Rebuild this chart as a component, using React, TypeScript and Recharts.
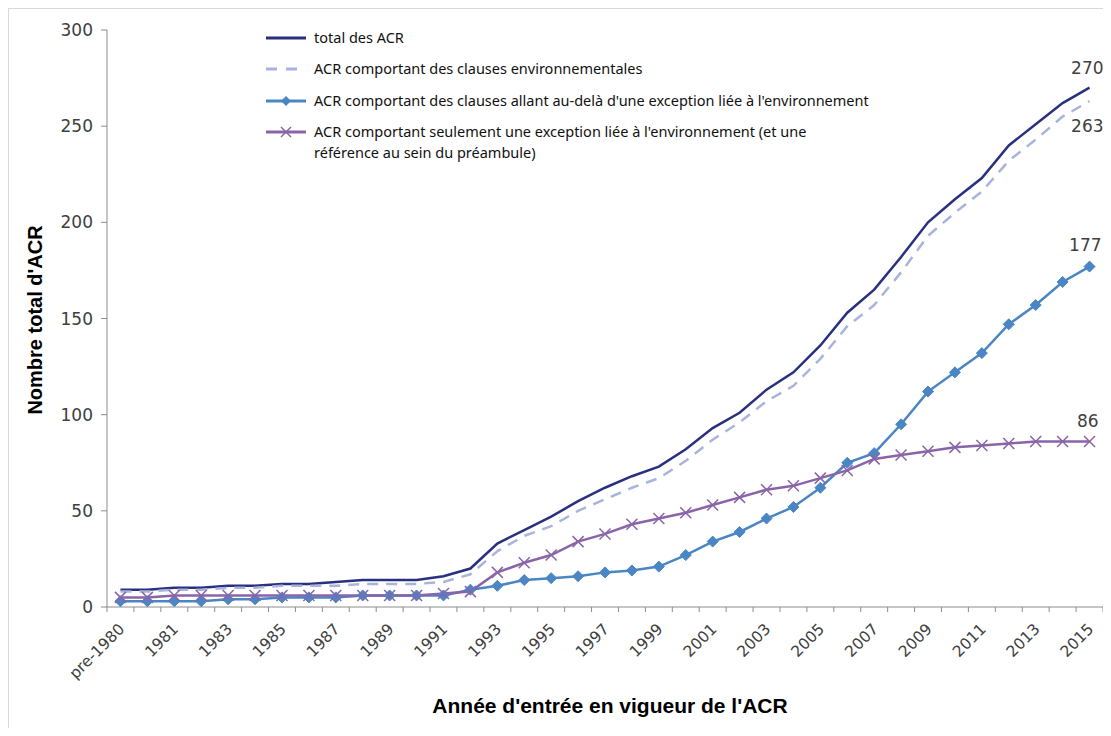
import React from 'react';
import { LineChart, Line, XAxis, YAxis, LabelList } from 'recharts';

// Année d'entrée en vigueur
const years = [
  'pre-1980', '1980', '1981', '1982', '1983', '1984', '1985', '1986', '1987',
  '1988', '1989', '1990', '1991', '1992', '1993', '1994', '1995', '1996',
  '1997', '1998', '1999', '2000', '2001', '2002', '2003', '2004', '2005',
  '2006', '2007', '2008', '2009', '2010', '2011', '2012', '2013', '2014', '2015',
];

const tickLabels = [
  'pre-1980', '1981', '1983', '1985', '1987', '1989', '1991', '1993', '1995',
  '1997', '1999', '2001', '2003', '2005', '2007', '2009', '2011', '2013', '2015',
];

const yTicks = [0, 50, 100, 150, 200, 250, 300];

const totalAcr = [
  9, 9, 10, 10, 11, 11, 12, 12, 13, 14, 14, 14, 16, 20, 33, 40, 47, 55, 62,
  68, 73, 82, 93, 101, 113, 122, 136, 153, 165, 182, 200, 212, 223, 240, 251, 262, 270,
];

const envClauses = [
  8, 8, 9, 9, 10, 10, 11, 11, 11, 12, 12, 12, 13, 17, 29, 37, 42, 50, 56,
  62, 67, 76, 87, 96, 107, 115, 129, 146, 157, 174, 193, 205, 216, 232, 243, 255, 263,
];

const beyondException = [
  3, 3, 3, 3, 4, 4, 5, 5, 5, 6, 6, 6, 6, 9, 11, 14, 15, 16, 18,
  19, 21, 27, 34, 39, 46, 52, 62, 75, 80, 95, 112, 122, 132, 147, 157, 169, 177,
];

const exceptionOnly = [
  5, 5, 6, 6, 6, 6, 6, 6, 6, 6, 6, 6, 7, 8, 18, 23, 27, 34, 38,
  43, 46, 49, 53, 57, 61, 63, 67, 71, 77, 79, 81, 83, 84, 85, 86, 86, 86,
];

const legendLabels = [
  'total des ACR',
  'ACR comportant des clauses environnementales',
  "ACR comportant des clauses allant au-delà d'une exception liée à l'environnement",
  "ACR comportant seulement une exception liée à l'environnement (et une",
  'référence au sein du préambule)',
];

const NAVY = '#28307f';
const LAVENDER = '#a9b4dc';
const BLUE = '#4a86c4';
const PURPLE = '#8a64a8';
const AXIS = '#8c8c8c';
const TEXT = '#404040';

const data = years.map((year, i) => ({
  year,
  total: totalAcr[i],
  env: envClauses[i],
  beyond: beyondException[i],
  only: exceptionOnly[i],
}));

const PLOT_W = 996;
const BAND = PLOT_W / years.length;
const LAST = years.length - 1;

const XTick = (props: any) => {
  const { x, y, payload } = props;
  const idx = payload.index;
  const label = payload.value;
  const tx = x + 5;
  const ty = y + 23;
  return (
    <g>
      <line x1={x - BAND / 2} x2={x - BAND / 2} y1={y} y2={y + 5} stroke={AXIS} />
      {idx === LAST && (
        <line x1={x + BAND / 2} x2={x + BAND / 2} y1={y} y2={y + 5} stroke={AXIS} />
      )}
      {tickLabels.includes(label) && (
        <text
          x={tx}
          y={ty}
          textAnchor="end"
          transform={`rotate(-45 ${tx} ${ty})`}
          fontFamily="DejaVu Sans"
          fontSize={15.5}
          fill={TEXT}
        >
          {label}
        </text>
      )}
    </g>
  );
};

const Diamond = (props: any) => {
  const { cx, cy } = props;
  const r = 5.5;
  return (
    <polygon
      points={`${cx},${cy - r} ${cx + r},${cy} ${cx},${cy + r} ${cx - r},${cy}`}
      fill={BLUE}
      stroke={BLUE}
    />
  );
};

const Cross = (props: any) => {
  const { cx, cy } = props;
  const r = 5.5;
  return (
    <g stroke={PURPLE} strokeWidth={1.5}>
      <line x1={cx - r} y1={cy - r} x2={cx + r} y2={cy + r} />
      <line x1={cx - r} y1={cy + r} x2={cx + r} y2={cy - r} />
    </g>
  );
};

const endLabel = (dx: number, dy: number) => (props: any) => {
  const { x, y, value, index } = props;
  if (index !== LAST) return null;
  return (
    <text x={x + dx} y={y + dy} textAnchor="end" fontFamily="DejaVu Sans" fontSize={17} fill={TEXT}>
      {value}
    </text>
  );
};

const LegendSymbol = ({ kind }: { kind: string }) => (
  <svg width={42} height={14} style={{ display: 'block' }}>
    {kind === 'total' && <line x1={1} x2={41} y1={7} y2={7} stroke={NAVY} strokeWidth={3} />}
    {kind === 'env' && (
      <line x1={1} x2={41} y1={7} y2={7} stroke={LAVENDER} strokeWidth={3} strokeDasharray="11 9" />
    )}
    {kind === 'beyond' && (
      <g>
        <line x1={1} x2={41} y1={7} y2={7} stroke={BLUE} strokeWidth={3} />
        <polygon points="21,2 26,7 21,12 16,7" fill={BLUE} />
      </g>
    )}
    {kind === 'only' && (
      <g>
        <line x1={1} x2={41} y1={7} y2={7} stroke={PURPLE} strokeWidth={3} />
        <g stroke={PURPLE} strokeWidth={1.5}>
          <line x1={16} y1={2} x2={26} y2={12} />
          <line x1={16} y1={12} x2={26} y2={2} />
        </g>
      </g>
    )}
  </svg>
);

const legendRow = (top: number, kind: string, lines: string[]) => (
  <div key={kind} style={{ position: 'absolute', left: 256, top, display: 'flex', alignItems: 'flex-start' }}>
    <div style={{ marginTop: 4 }}>
      <LegendSymbol kind={kind} />
    </div>
    <div style={{ marginLeft: 7, lineHeight: '21px' }}>
      {lines.map((l) => (
        <div key={l}>{l}</div>
      ))}
    </div>
  </div>
);

export default function App() {
  return (
    <div style={{ width: 1103, height: 720, overflow: 'hidden' }}>
      <div
        style={{
          position: 'relative',
          width: 1110,
          height: 740,
          border: '1px solid #d9d9d9',
          background: '#fff',
        }}
      >
        <LineChart
          width={1100}
          height={726}
          data={data}
          margin={{ top: 21, right: 6, bottom: 48, left: 38 }}
          style={{ overflow: 'visible' }}
        >
          <XAxis
            dataKey="year"
            interval={0}
            padding={{ left: BAND / 2, right: BAND / 2 }}
            tickLine={false}
            tickSize={0}
            tickMargin={0}
            height={80}
            axisLine={{ stroke: AXIS }}
            tick={<XTick />}
          />
          <YAxis
            domain={[0, 300]}
            ticks={yTicks}
            width={60}
            tickSize={6}
            tickMargin={8}
            axisLine={{ stroke: AXIS }}
            tickLine={{ stroke: AXIS }}
            tick={{ fontFamily: 'DejaVu Sans', fontSize: 17, fill: TEXT }}
          />
          <Line
            dataKey="total"
            stroke={NAVY}
            strokeWidth={2.5}
            dot={false}
            isAnimationActive={false}
          >
            <LabelList dataKey="total" content={endLabel(14, -14)} />
          </Line>
          <Line
            dataKey="env"
            stroke={LAVENDER}
            strokeWidth={2.5}
            strokeDasharray="11 8"
            dot={false}
            isAnimationActive={false}
          >
            <LabelList dataKey="env" content={endLabel(14, 31)} />
          </Line>
          <Line
            dataKey="beyond"
            stroke={BLUE}
            strokeWidth={2.5}
            dot={(p: any) => <Diamond key={`d-${p.index}`} {...p} />}
            isAnimationActive={false}
          >
            <LabelList dataKey="beyond" content={endLabel(12, -16)} />
          </Line>
          <Line
            dataKey="only"
            stroke={PURPLE}
            strokeWidth={2.5}
            dot={(p: any) => <Cross key={`c-${p.index}`} {...p} />}
            isAnimationActive={false}
          >
            <LabelList dataKey="only" content={endLabel(9, -15)} />
          </Line>
        </LineChart>

        <div style={{ fontFamily: 'Noto Sans', fontSize: 14.5, color: '#111' }}>
          {legendRow(18, 'total', [legendLabels[0]])}
          {legendRow(49, 'env', [legendLabels[1]])}
          {legendRow(81, 'beyond', [legendLabels[2]])}
          {legendRow(112, 'only', [legendLabels[3], legendLabels[4]])}
        </div>

        <div
          style={{
            position: 'absolute',
            left: 26,
            top: 311,
            transform: 'translate(-50%, -50%) rotate(-90deg)',
            whiteSpace: 'nowrap',
            fontFamily: 'Liberation Sans',
            fontWeight: 'bold',
            fontSize: 20,
            color: '#000',
          }}
        >
          Nombre total d'ACR
        </div>
        <div
          style={{
            position: 'absolute',
            left: 601,
            top: 697,
            transform: 'translate(-50%, -50%)',
            whiteSpace: 'nowrap',
            fontFamily: 'Liberation Sans',
            fontWeight: 'bold',
            fontSize: 21,
            color: '#000',
          }}
        >
          Année d'entrée en vigueur de l'ACR
        </div>
      </div>
    </div>
  );
}
